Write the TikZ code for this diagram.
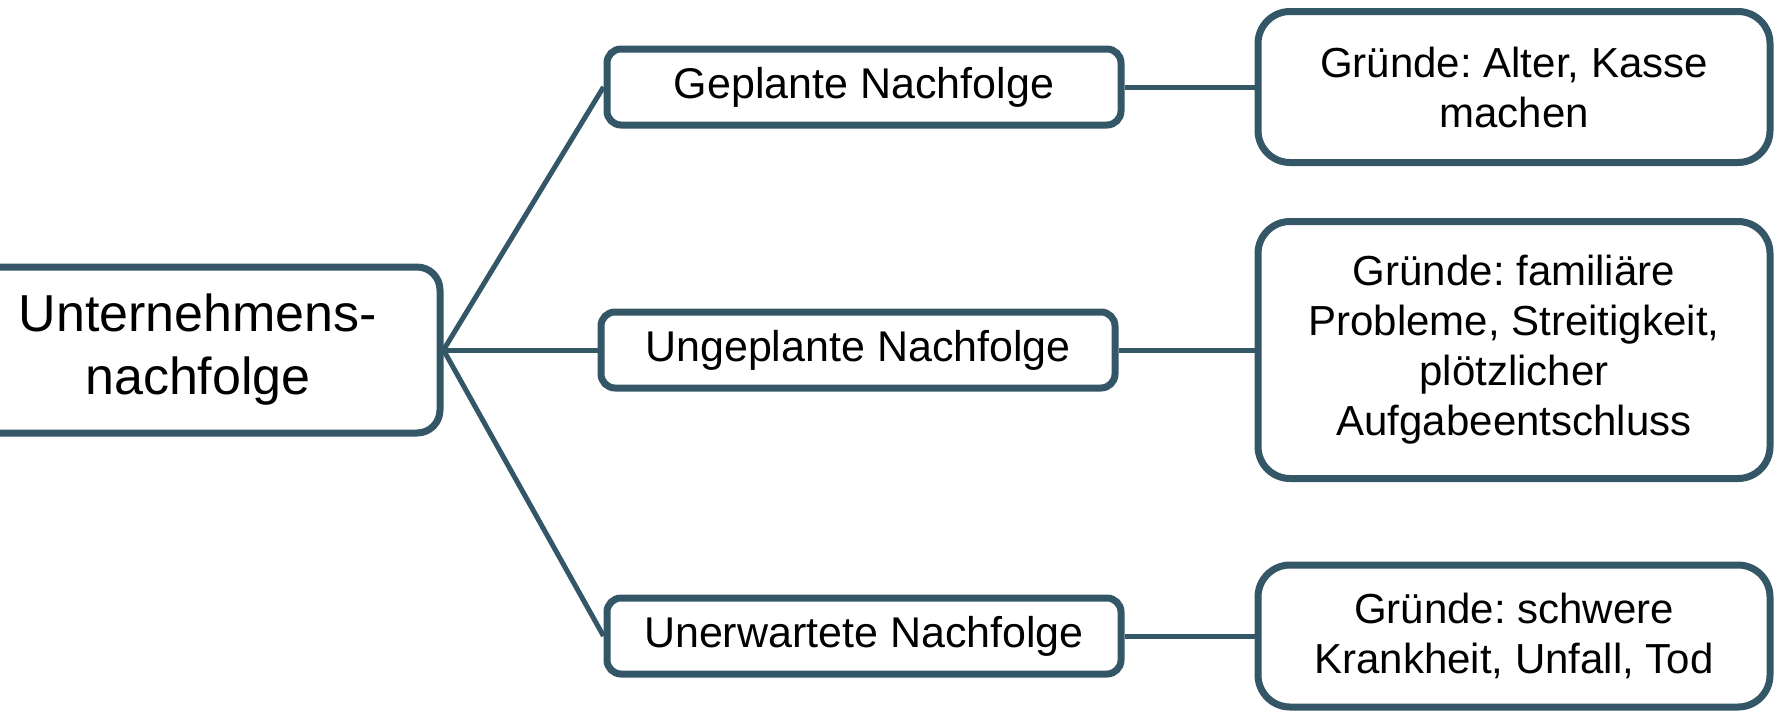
\documentclass[tikz,border=0pt]{standalone}
\usepackage{fontspec}
\setmainfont{Liberation Sans}
\frenchspacing
\definecolor{rand}{RGB}{52,87,103}
\begin{document}
\begin{tikzpicture}[x=0.5pt,y=-0.5pt, %Pixelmass
	wurzel/.style={draw=rand, line width=3.5pt, fill=white, rounded corners=11.5pt, align=center, inner sep=0pt, minimum width=242pt, minimum height=83pt, font=\fontsize{26}{31.5}\selectfont},
	ast/.style={draw=rand, line width=3.5pt, fill=white, rounded corners=7pt, align=center, inner sep=0pt, minimum width=257pt, minimum height=38pt, font=\fontsize{21.5}{26.5}\selectfont},
	grund/.style={draw=rand, line width=3.5pt, fill=white, rounded corners=16pt, align=center, inner sep=0pt, minimum width=256pt, font=\fontsize{21}{25}\selectfont},
	linie/.style={draw=rand, line width=2.5pt}]
	\useasboundingbox (0,0) rectangle (1775,712); %Rand
		%Kasten
	\node[wurzel] (unt) at (198,350) {Unternehmens-\\nachfolge};
	
	\node[ast] (gep) at (864,87) {Geplante Nachfolge};
	\node[ast] (ung) at (858,350) {Ungeplante Nachfolge};
	\node[ast] (une) at (864,636) {Unerwartete Nachfolge};
	
	\node[grund, minimum height=75.5pt] (gr1) at (1514,87) {Gründe: Alter, Kasse\\machen};
	\node[grund, minimum height=128.5pt] (gr2) at (1514,350) {Gründe: familiäre\\Probleme, Streitigkeit,\\plötzlicher\\Aufgabeentschluss};
	\node[grund, minimum height=71pt] (gr3) at (1514,636) {Gründe: schwere\\Krankheit, Unfall, Tod};
		%Linien
	\draw[linie] (unt.east) -- (gep.west);
	\draw[linie] (unt.east) -- (ung.west);
	\draw[linie] (unt.east) -- (une.west);
	
	\draw[linie] (gep.east) -- (gr1.west);
	\draw[linie] (ung.east) -- (gr2.west);
	\draw[linie] (une.east) -- (gr3.west);
\end{tikzpicture}
\end{document}
